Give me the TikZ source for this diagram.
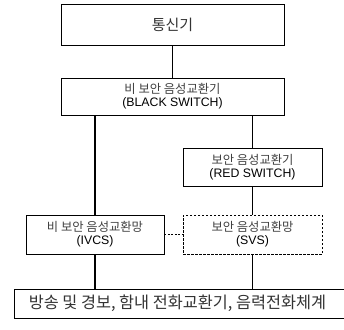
\documentclass[tikz,border=0pt]{standalone}
\usepackage{fontspec}
\setmainfont{Liberation Sans}
\newfontfamily\kr{Noto Sans CJK KR}
\begin{document}
\begin{tikzpicture}[x=1pt,y=-1pt,
  box/.style={draw=black, line width=0.8pt, rectangle, inner sep=0pt, align=center, fill=white},
  conn/.style={line width=1.5pt},
  link/.style={line width=0.8pt, dash pattern=on 2pt off 1.5pt},
  midtxt/.style={font=\fontsize{12.3}{13}\selectfont}]
\useasboundingbox (0,0) rectangle (344,329);
\node[box, minimum width=223pt, minimum height=41pt] (top) at (172.5,24.5)
  {{\kr\fontsize{15}{16}\selectfont\color{black!80}통신기}};
\node[box, midtxt, minimum width=223pt, minimum height=37pt] (black) at (172.5,96.5)
  {{\kr\color{black!75}비 보안 음성교환기}\\(BLACK SWITCH)};
\node[box, midtxt, minimum width=139pt, minimum height=38pt] (red) at (252.5,167)
  {{\kr\color{black!75}보안 음성교환기}\\(RED SWITCH)};
\node[box, midtxt, minimum width=138pt, minimum height=39pt] (ivcs) at (95,234.5)
  {{\kr\color{black!75}비 보안 음성교환망}\\(IVCS)};
\node[box, midtxt, minimum width=139pt, minimum height=39pt, dash pattern=on 2.5pt off 1.5pt] (svs) at (252.5,234.5)
  {{\kr\color{black!75}보안 음성교환망}\\(SVS)};
\node[box, minimum width=340pt, minimum height=29pt, anchor=west] (bottom) at (14,303.5)
  {\hspace*{-14pt}{\kr\fontsize{16.3}{17}\selectfont\color{black!80}방송 및 경보, 함내 전화교환기, 음력전화체계}};
\draw[conn] (top.south) -- (black.north);
\draw[conn] (black.south -| ivcs.north) -- (ivcs.north);
\draw[conn] (black.south -| red.north) -- (red.north);
\draw[conn] (red.south) -- (svs.north);
\draw[conn] (ivcs.south) -- (ivcs.south |- bottom.north);
\draw[conn] (svs.south) -- (svs.south |- bottom.north);
\draw[link] (ivcs.east) -- (svs.west);
\end{tikzpicture}
\end{document}
